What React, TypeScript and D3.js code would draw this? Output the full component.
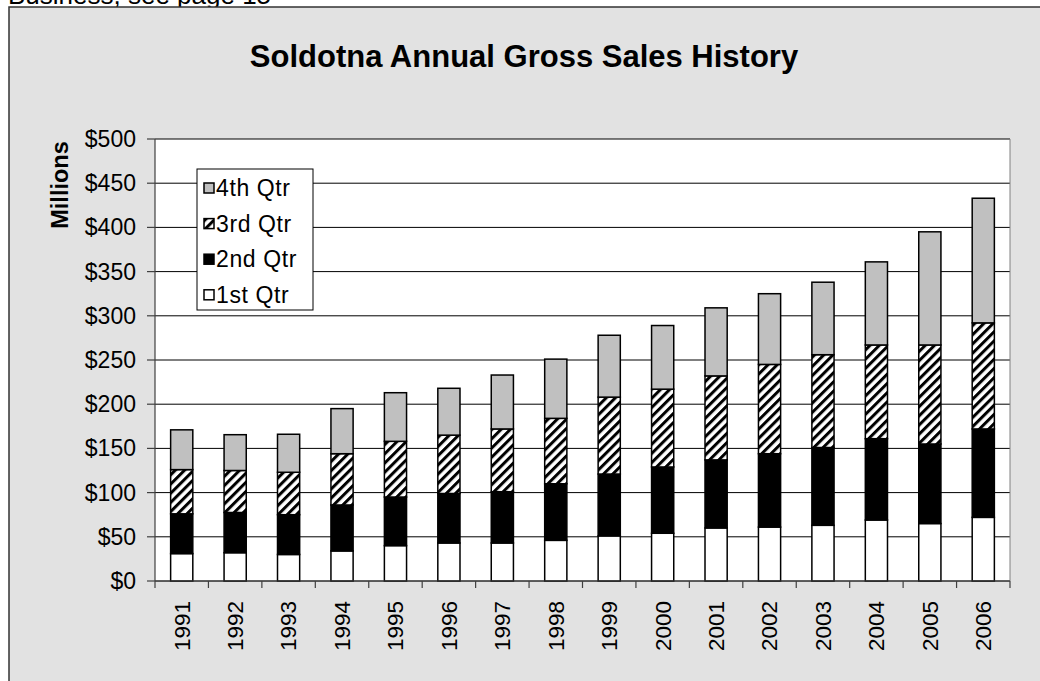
import React from "react";
import * as d3 from "d3";

const years = ["1991","1992","1993","1994","1995","1996","1997","1998","1999","2000","2001","2002","2003","2004","2005","2006"];
const q1 = [31, 32, 30, 34, 40, 43, 43, 46, 51, 54, 60, 61, 63, 69, 65, 72];
const q2 = [45, 45.5, 45, 52, 55, 56, 58, 64, 70, 75, 77, 83, 88, 92, 90, 100];
const q3 = [50, 47.5, 48, 58, 63, 66, 71, 74, 87, 88, 95, 101, 105, 106, 112, 120];
const q4 = [45, 40.5, 43, 51, 55, 53, 61, 67, 70, 72, 77, 80, 82, 94, 128, 141];
const seriesNames = ["1st Qtr", "2nd Qtr", "3rd Qtr", "4th Qtr"];
const yTicks = [0, 50, 100, 150, 200, 250, 300, 350, 400, 450, 500];

const W = 1040, H = 681;
const plot = { left: 155, right: 1010, top: 139, bottom: 581 };
const FONT = "'Liberation Sans', Arial, sans-serif";

export default function App() {
  const x = d3.scaleBand<string>().domain(years).range([plot.left, plot.right]).paddingInner(0.585).paddingOuter(0.2925);
  const y = d3.scaleLinear().domain([0, 500]).range([plot.bottom, plot.top]);

  const table = years.map((yr, i) => ({ year: yr, q1: q1[i], q2: q2[i], q3: q3[i], q4: q4[i] }));
  const stack = d3.stack<any>().keys(["q1", "q2", "q3", "q4"]);
  const layers = stack(table);
  const fills = ["#ffffff", "#000000", "url(#hatch)", "#c0c0c0"];

  const step = x.step();
  const boundaries = d3.range(years.length + 1).map(i => plot.left + i * step);

  const legendRows = [3, 2, 1, 0];

  return (
    <svg width={W} height={H} style={{ position: "absolute", left: 0, top: 0 }} fontFamily={FONT}>
      <defs>
        <pattern id="hatch" patternUnits="userSpaceOnUse" width="6.5" height="6.5" patternTransform="rotate(45)">
          <rect width="6.5" height="6.5" fill="#fff" />
          <rect width="3" height="6.5" fill="#000" />
        </pattern>
      </defs>
      <rect x={0} y={0} width={W} height={H} fill="#ffffff" />
      <text x={8} y={4} fontSize={26} fill="#000">Business, see page 15</text>
      <rect x={9} y={7} width={W + 20} height={H + 20} fill="#e2e2e2" stroke="#333" strokeWidth={1.5} />
      <text x={524} y={67} textAnchor="middle" fontSize={31} fontWeight="bold">Soldotna Annual Gross Sales History</text>

      <rect x={plot.left} y={plot.top} width={plot.right - plot.left} height={plot.bottom - plot.top} fill="#fff" />
      {yTicks.map(t => (
        <line key={"g" + t} x1={plot.left} x2={plot.right} y1={y(t)} y2={y(t)} stroke="#000" strokeWidth={1} />
      ))}
      <line x1={plot.right} x2={plot.right} y1={plot.top} y2={plot.bottom} stroke="#808080" strokeWidth={1} />

      {layers.map((layer, li) =>
        layer.map((d, i) => (
          <rect key={li + "-" + i} x={x(years[i])} y={y(d[1])} width={x.bandwidth()} height={y(d[0]) - y(d[1])}
            fill={fills[li]} stroke="#000" strokeWidth={1.5} />
        ))
      )}

      <line x1={plot.left} x2={plot.left} y1={plot.top} y2={plot.bottom} stroke="#404040" strokeWidth={1.2} />
      <line x1={plot.left} x2={plot.right} y1={plot.bottom} y2={plot.bottom} stroke="#404040" strokeWidth={1.2} />
      {yTicks.map(t => (
        <g key={"t" + t}>
          <line x1={plot.left - 8} x2={plot.left} y1={y(t)} y2={y(t)} stroke="#404040" strokeWidth={1.2} />
          <text x={136} y={y(t)} dy="0.35em" textAnchor="end" fontSize={23}>{"$" + t}</text>
        </g>
      ))}
      {boundaries.map((bx, i) => (
        <line key={"b" + i} x1={bx} x2={bx} y1={plot.bottom} y2={plot.bottom + 7} stroke="#404040" strokeWidth={1.2} />
      ))}
      {years.map(yr => {
        const cx = (x(yr) as number) + x.bandwidth() / 2;
        return (
          <text key={yr} transform={`translate(${cx},601) rotate(-90)`} textAnchor="end" dy="0.35em" fontSize={22.5}>{yr}</text>
        );
      })}
      <text transform="translate(60,185) rotate(-90)" textAnchor="middle" dy="0.35em" fontSize={23.5} fontWeight="bold">Millions</text>

      <rect x={197} y={169} width={116} height={141} fill="#fff" stroke="#000" strokeWidth={1} />
      {legendRows.map((si, r) => {
        const cy = 188 + r * 35.6;
        return (
          <g key={"l" + si}>
            <rect x={204} y={cy - 5} width={10} height={10} fill={fills[si]} stroke="#000" strokeWidth={1.5} />
            <text x={216} y={cy} dy="0.35em" fontSize={23} letterSpacing={0.6}>{seriesNames[si]}</text>
          </g>
        );
      })}
    </svg>
  );
}
